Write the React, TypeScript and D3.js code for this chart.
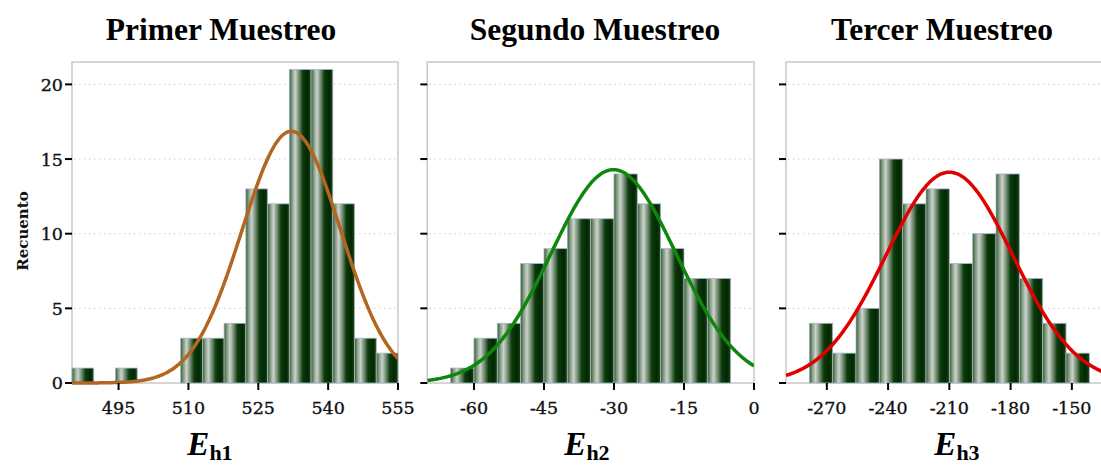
import React from "react";
import * as d3 from "d3";

// ---- data ----
const counts1 = [1, 0, 1, 0, 0, 3, 3, 4, 13, 12, 21, 21, 12, 3, 2];
const counts2 = [0, 1, 3, 4, 8, 9, 11, 11, 14, 12, 9, 7, 7, 0];
const counts3 = [0, 4, 2, 5, 15, 12, 13, 8, 10, 14, 7, 4, 2, 0];

const domain1: [number, number] = [485, 555];
const domain2: [number, number] = [-70, 0];
const domain3: [number, number] = [-290, -130];

const ticks1 = [495, 510, 525, 540, 555];
const ticks2 = [-60, -45, -30, -15, 0];
const ticks3 = [-270, -240, -210, -180, -150];

const fit1 = { mean: 532.1, sd: 10.6 };
const fit2 = { mean: -30.1, sd: 13.4 };
const fit3 = { mean: -210, sd: 31 };

const yTicks = [0, 5, 10, 15, 20];
const yMax = 21.5;

const titles = ["Primer Muestreo", "Segundo Muestreo", "Tercer Muestreo"];
const subs = ["h1", "h2", "h3"];
const curveColors = ["#b3661f", "#0f870f", "#e00000"];

// ---- layout ----
const W = 1101;
const H = 465;
const TOP = 62;
const BOTTOM = 383;
const layout = [
  { left: 72, right: 398, titleX: 221, labelX: 210 },
  { left: 427.3, right: 754, titleX: 595, labelX: 587 },
  { left: 786, right: 1112.7, titleX: 942, labelX: 957 },
];

const panels = [
  { counts: counts1, domain: domain1, ticks: ticks1, fit: fit1 },
  { counts: counts2, domain: domain2, ticks: ticks2, fit: fit2 },
  { counts: counts3, domain: domain3, ticks: ticks3, fit: fit3 },
];

const serif = "'DejaVu Serif', 'Liberation Serif', serif";
const titleFont = "'Liberation Serif', 'Times New Roman', serif";

function Panel({ i }: { i: number }) {
  const p = panels[i];
  const L = layout[i];
  const x = d3.scaleLinear().domain(p.domain).range([L.left, L.right]);
  const y = d3.scaleLinear().domain([0, yMax]).range([BOTTOM, TOP]);
  const nb = p.counts.length;
  const bw = (p.domain[1] - p.domain[0]) / nb;
  const N = d3.sum(p.counts);
  const pdf = (v: number) =>
    (N * bw * Math.exp(-0.5 * ((v - p.fit.mean) / p.fit.sd) ** 2)) /
    (p.fit.sd * Math.sqrt(2 * Math.PI));
  const xs = d3.range(0, 301).map((k) => p.domain[0] + (k * (p.domain[1] - p.domain[0])) / 300);
  const line = d3
    .line<number>()
    .x((v) => x(v))
    .y((v) => y(pdf(v)))
    .curve(d3.curveBasis);
  const clipId = `clip${i}`;
  return (
    <g>
      <defs>
        <clipPath id={clipId}>
          <rect x={L.left} y={TOP} width={L.right - L.left} height={BOTTOM - TOP + 2} />
        </clipPath>
      </defs>
      <rect
        x={L.left}
        y={TOP}
        width={L.right - L.left}
        height={BOTTOM - TOP}
        fill="#fff"
        stroke="#c9c9c9"
        strokeWidth={1.5}
      />
      {yTicks.slice(1).map((t) => (
        <line
          key={t}
          x1={L.left + 2}
          x2={L.right - 2}
          y1={y(t)}
          y2={y(t)}
          stroke="#cfcfcf"
          strokeWidth={1}
          strokeDasharray="1.5,3.5"
        />
      ))}
      {p.counts.map((c, k) =>
        c > 0 ? (
          <rect
            key={k}
            x={x(p.domain[0] + k * bw)}
            y={y(c)}
            width={x(p.domain[0] + (k + 1) * bw) - x(p.domain[0] + k * bw)}
            height={BOTTOM - y(c)}
            fill="url(#barGrad)"
            stroke="#a9b3c6"
            strokeWidth={0.8}
          />
        ) : null
      )}
      <g clipPath={`url(#${clipId})`}>
        <path d={line(xs) || ""} fill="none" stroke={curveColors[i]} strokeWidth={3.5} />
      </g>
      {yTicks.map((t) => (
        <g key={t}>
          <line x1={L.left - 7} x2={L.left} y1={y(t)} y2={y(t)} stroke="#000" strokeWidth={2} />
          {i === 0 ? (
            <text
              x={L.left - 9}
              y={y(t)}
              dy="0.37em"
              textAnchor="end"
              fontFamily={serif}
              fontSize={17.5}
              fill="#111"
              stroke="#111"
              strokeWidth={0.35}
            >
              {t}
            </text>
          ) : null}
        </g>
      ))}
      {p.ticks.map((t) => (
        <g key={t}>
          <line x1={x(t)} x2={x(t)} y1={BOTTOM} y2={BOTTOM + 7} stroke="#000" strokeWidth={2} />
          <text
            x={x(t)}
            y={BOTTOM + 31}
            textAnchor="middle"
            fontFamily={serif}
            fontSize={17.5}
            fill="#111"
            stroke="#111"
            strokeWidth={0.35}
          >
            {t}
          </text>
        </g>
      ))}
      <text
        x={L.titleX}
        y={40}
        textAnchor="middle"
        fontFamily={titleFont}
        fontWeight="bold"
        fontSize={31.5}
        fill="#000"
      >
        {titles[i]}
      </text>
      <text
        x={L.labelX}
        y={455}
        textAnchor="middle"
        fontFamily={titleFont}
        fontWeight="bold"
        fill="#000"
      >
        <tspan fontStyle="italic" fontSize={33}>
          E
        </tspan>
        <tspan fontSize={22} dy={5}>
          {subs[i]}
        </tspan>
      </text>
    </g>
  );
}

export default function App() {
  return (
    <svg
      width={W}
      height={H}
      viewBox={`0 0 ${W} ${H}`}
      style={{ position: "absolute", left: 0, top: 0, background: "#fff" }}
    >
      <defs>
        <linearGradient id="barGrad" x1="0" x2="1" y1="0" y2="0">
          <stop offset="0%" stopColor="#2c5a2c" />
          <stop offset="12%" stopColor="#7f9a7f" />
          <stop offset="27%" stopColor="#cdd2cd" />
          <stop offset="45%" stopColor="#6d896d" />
          <stop offset="62%" stopColor="#0c3a0c" />
          <stop offset="85%" stopColor="#012801" />
          <stop offset="100%" stopColor="#1b461b" />
        </linearGradient>
      </defs>
      <rect x={0} y={0} width={W} height={H} fill="#fff" />
      {[0, 1, 2].map((i) => (
        <Panel key={i} i={i} />
      ))}
      <text
        transform="translate(28,231) rotate(-90)"
        textAnchor="middle"
        fontFamily={serif}
        fontWeight="bold"
        fontSize={15}
        fill="#111"
      >
        Recuento
      </text>
    </svg>
  );
}
